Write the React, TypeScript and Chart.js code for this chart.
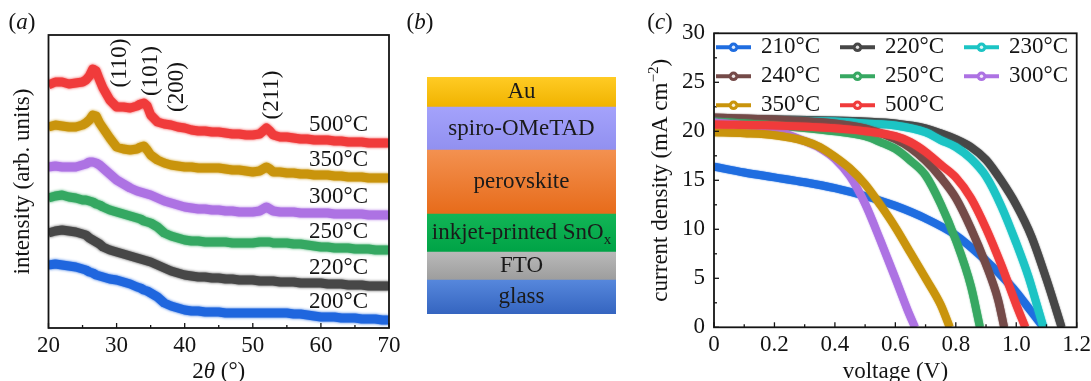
import React, { useEffect, useRef } from 'react';
import { Chart, registerables } from 'chart.js';

Chart.register(...registerables);

const FONT = "'Liberation Serif', 'Times New Roman', Times, serif";
const INK = '#141414';
const FS = 23;

// ---------------- (a) XRD patterns ----------------
const twoTheta = [20, 21, 22, 23, 24, 25, 25.5, 26, 26.5, 27, 27.5, 28, 29, 30, 31, 32, 33, 33.5, 34, 34.5, 35, 36, 37, 38, 39, 40, 41, 42, 43, 44, 45, 46, 47, 48, 49, 50, 51, 51.5, 52, 52.5, 53, 54, 55, 56, 57, 58, 59, 60, 61, 62, 63, 64, 65, 66, 67, 68, 69, 70];
const xrd200 = [63, 64, 63, 62, 61, 59, 58, 56, 55, 53, 52, 51, 49, 48, 46, 44, 41, 40, 38, 37, 35, 31, 25, 22, 20, 18, 17, 17, 16, 16, 16, 15, 15, 15, 15, 15, 15, 15, 15, 15, 15, 15, 15, 14, 14, 13, 12, 11, 11, 11, 10, 10, 10, 9, 9, 9, 8, 8];
const xrd220 = [95, 97, 98, 97, 96, 94, 93, 90, 88, 86, 84, 81, 78, 76, 74, 72, 70, 69, 68, 67, 66, 63, 60, 57, 55, 53, 52, 51, 51, 50, 50, 49, 49, 48, 48, 48, 47, 47, 47, 47, 47, 46, 46, 46, 45, 45, 45, 45, 44, 44, 44, 43, 43, 43, 42, 42, 42, 42];
const xrd250 = [130, 132, 133, 131, 130, 128, 128, 127, 126, 124, 123, 121, 118, 116, 114, 112, 110, 109, 107, 106, 105, 101, 95, 92, 90, 88, 87, 87, 86, 86, 86, 86, 85, 85, 85, 85, 86, 86, 86, 86, 85, 85, 85, 84, 84, 83, 82, 81, 81, 80, 80, 80, 79, 79, 79, 78, 78, 78];
const xrd300 = [161, 162, 161, 161, 161, 163, 164, 166, 166, 165, 163, 160, 154, 148, 144, 140, 137, 136, 135, 134, 133, 130, 127, 125, 123, 121, 120, 119, 119, 118, 118, 117, 117, 116, 116, 116, 117, 119, 121, 119, 117, 116, 116, 116, 115, 115, 115, 115, 115, 114, 114, 114, 114, 114, 113, 113, 113, 113];
const xrd350 = [201, 203, 202, 201, 201, 203, 205, 208, 213, 212, 205, 200, 190, 181, 179, 178, 179, 181, 182, 178, 173, 168, 165, 163, 162, 161, 161, 160, 160, 160, 160, 159, 158, 158, 157, 156, 157, 159, 161, 159, 156, 156, 155, 155, 154, 154, 153, 153, 153, 152, 152, 151, 151, 151, 150, 150, 150, 150];
const xrd500 = [243, 246, 246, 244, 245, 246, 248, 252, 259, 257, 248, 240, 228, 221, 221, 220, 222, 224, 225, 222, 213, 206, 204, 203, 201, 200, 198, 197, 197, 196, 196, 195, 194, 194, 193, 193, 194, 197, 200, 197, 193, 191, 191, 190, 189, 189, 188, 188, 188, 187, 187, 186, 186, 186, 185, 185, 185, 185];
const xrdSeries = [xrd200, xrd220, xrd250, xrd300, xrd350, xrd500];
const xrdLabels = ['200°C', '220°C', '250°C', '300°C', '350°C', '500°C'];
const xrdColors = ['#1f66de', '#474747', '#35a862', '#ad72e3', '#c9940c', '#f03b3b'];
const xrdTicks = [20, 30, 40, 50, 60, 70];
const xrdMinor = [25, 35, 45, 55, 65];
const peakNames = ['(110)', '(101)', '(200)', '(211)'];
const peakTheta = [30.5, 35.0, 38.9, 52.8];
const peakLevel = [265, 257, 241, 233];

// ---------------- (b) device stack ----------------
const layerNames = ['glass', 'FTO', 'inkjet-printed SnO', 'perovskite', 'spiro-OMeTAD', 'Au'];
const layerSubs = ['', '', 'x', '', '', ''];
const layerThickness = [34, 28, 38, 64, 43, 30];
const layerTop = ['#5687dc', '#b9b9b9', '#12b556', '#f39150', '#a4a2fb', '#ffcb24'];
const layerBottom = ['#3565c0', '#9d9d9d', '#00a346', '#e76b1a', '#9190f0', '#f0b300'];

// ---------------- (c) J-V curves ----------------
const v210 = [0, 0.1, 0.2, 0.3, 0.4, 0.5, 0.6, 0.7, 0.8, 0.9, 0.95, 1.0, 1.05, 1.09];
const j210 = [16.4, 15.8, 15.3, 14.8, 14.2, 13.4, 12.4, 11.1, 9.4, 6.8, 5.3, 3.6, 1.6, 0];
const v220 = [0, 0.2, 0.4, 0.5, 0.6, 0.7, 0.75, 0.8, 0.85, 0.9, 0.95, 1.0, 1.05, 1.1, 1.13, 1.15];
const j220 = [21.3, 21.2, 21.1, 21.0, 20.8, 20.3, 19.8, 19.2, 18.4, 17.1, 15.0, 12.5, 9.3, 4.9, 2.0, 0];
const v230 = [0, 0.2, 0.4, 0.5, 0.6, 0.7, 0.75, 0.8, 0.85, 0.9, 0.95, 1.0, 1.04, 1.07, 1.09];
const j230 = [21.2, 21.1, 21.0, 20.8, 20.6, 19.9, 19.1, 18.4, 17.2, 15.4, 12.4, 8.6, 5.2, 2.1, 0];
const v240 = [0, 0.2, 0.4, 0.5, 0.6, 0.65, 0.7, 0.75, 0.8, 0.85, 0.9, 0.94, 0.96];
const j240 = [21.4, 21.2, 20.8, 20.3, 19.2, 18.3, 17.0, 15.3, 13.2, 10.1, 6.4, 2.8, 0];
const v250 = [0, 0.2, 0.4, 0.5, 0.55, 0.6, 0.65, 0.7, 0.75, 0.8, 0.85, 0.88];
const j250 = [21.0, 20.6, 20.0, 19.5, 18.9, 18.2, 17.0, 15.5, 12.6, 8.9, 4.2, 0];
const v300 = [0, 0.1, 0.2, 0.3, 0.35, 0.4, 0.45, 0.5, 0.55, 0.6, 0.64, 0.665];
const j300 = [20.9, 20.6, 20.1, 19.0, 18.3, 17.2, 15.4, 12.6, 8.9, 5.0, 1.8, 0];
const v350 = [0, 0.1, 0.2, 0.3, 0.35, 0.4, 0.45, 0.5, 0.55, 0.6, 0.65, 0.7, 0.75, 0.78];
const j350 = [19.9, 19.8, 19.6, 19.0, 18.4, 17.4, 16.2, 14.6, 12.5, 10.2, 7.6, 5.0, 2.3, 0];
const v500 = [0, 0.2, 0.4, 0.5, 0.6, 0.65, 0.7, 0.75, 0.8, 0.85, 0.9, 0.95, 1.0, 1.03];
const j500 = [20.7, 20.6, 20.3, 20.0, 19.5, 18.9, 17.9, 16.6, 15.3, 13.2, 10.1, 6.4, 2.3, 0];
const ivVoltages = [v210, v220, v230, v240, v250, v300, v350, v500];
const ivCurrents = [j210, j220, j230, j240, j250, j300, j350, j500];
const ivLabels = ['210°C', '220°C', '230°C', '240°C', '250°C', '300°C', '350°C', '500°C'];
const ivColors = ['#1f6de0', '#474747', '#1cc4c4', '#744a48', '#37a862', '#ad72e3', '#c9940c', '#f03b3b'];
const ivDrawOrder = [8, 7, 6, 5, 4, 3, 2, 1];
const ivXMinor = [0.1, 0.3, 0.5, 0.7, 0.9, 1.1];
const ivYMinor = [2.5, 7.5, 12.5, 17.5, 22.5, 27.5];

type Part = { t: string; italic?: boolean; sup?: boolean; sub?: boolean };

function drawRich(
  ctx: CanvasRenderingContext2D,
  parts: Part[],
  x: number,
  y: number,
  size: number,
  align: 'left' | 'center' | 'right',
  rot = 0,
  color = INK
) {
  ctx.save();
  ctx.translate(x, y);
  ctx.rotate(rot);
  ctx.textBaseline = 'middle';
  ctx.textAlign = 'left';
  ctx.fillStyle = color;
  const fontOf = (p: Part) =>
    `${p.italic ? 'italic ' : ''}${p.sup || p.sub ? Math.round(size * 0.66) : size}px ${FONT}`;
  let total = 0;
  const widths = parts.map((p) => {
    ctx.font = fontOf(p);
    const w = ctx.measureText(p.t).width;
    total += w;
    return w;
  });
  let cx = align === 'left' ? 0 : align === 'center' ? -total / 2 : -total;
  parts.forEach((p, i) => {
    ctx.font = fontOf(p);
    const dy = p.sup ? -size * 0.32 : p.sub ? size * 0.3 : 0;
    ctx.fillText(p.t, cx, dy);
    cx += widths[i];
  });
  ctx.restore();
}

const softLinePlugin = {
  id: 'softLine',
  beforeDatasetDraw(chart: any, args: any, opts: any) {
    const ds = chart.data.datasets[args.index];
    chart.ctx.save();
    chart.ctx.shadowColor = ds.borderColor;
    chart.ctx.shadowBlur = opts.blur || 2;
  },
  afterDatasetDraw(chart: any) {
    chart.ctx.restore();
  },
};

const frameTicksPlugin = {
  id: 'frameTicks',
  afterDatasetsDraw(chart: any, _args: any, opts: any) {
    const { ctx, chartArea: a, scales } = chart;
    const xs = scales.x;
    const ys = scales.y;
    ctx.save();
    ctx.strokeStyle = INK;
    ctx.lineWidth = 1.3;
    const tick = (px: number, py: number, dx: number, dy: number) => {
      ctx.beginPath();
      ctx.moveTo(px, py);
      ctx.lineTo(px + dx, py + dy);
      ctx.stroke();
    };
    xs.ticks.forEach((t: any) => tick(xs.getPixelForValue(t.value), a.bottom, 0, -opts.major));
    (opts.xMinor || []).forEach((v: number) => tick(xs.getPixelForValue(v), a.bottom, 0, -opts.minor));
    if (opts.yTicks) {
      ys.ticks.forEach((t: any) => tick(a.left, ys.getPixelForValue(t.value), opts.major, 0));
      (opts.yMinor || []).forEach((v: number) => tick(a.left, ys.getPixelForValue(v), opts.minor, 0));
    }
    ctx.lineWidth = 1.8;
    ctx.strokeRect(a.left, a.top, a.right - a.left, a.bottom - a.top);
    ctx.restore();
  },
};

const xrdTextPlugin = {
  id: 'xrdText',
  afterDraw(chart: any) {
    const { ctx, chartArea: a, scales } = chart;
    const xs = scales.x;
    const ys = scales.y;
    drawRich(ctx, [{ t: '(' }, { t: 'a', italic: true }, { t: ')' }], 22, 23, FS, 'center');
    drawRich(ctx, [{ t: 'intensity (arb. units)' }], 23, (a.top + a.bottom) / 2, FS, 'center', -Math.PI / 2);
    drawRich(ctx, [{ t: '2' }, { t: 'θ', italic: true }, { t: ' (°)' }], (a.left + a.right) / 2, 372, FS, 'center');
    peakNames.forEach((n, i) => {
      drawRich(ctx, [{ t: n }], xs.getPixelForValue(peakTheta[i]), ys.getPixelForValue(peakLevel[i]), FS, 'center', -Math.PI / 2);
    });
    chart.data.datasets.forEach((ds: any) => {
      const last = ds.data[ds.data.length - 1].y;
      drawRich(ctx, [{ t: ds.label }], a.right - 21, ys.getPixelForValue(last) - 18, FS, 'right');
    });
  },
};

const layerTextPlugin = {
  id: 'layerText',
  afterDatasetsDraw(chart: any) {
    const { ctx } = chart;
    drawRich(ctx, [{ t: '(' }, { t: 'b', italic: true }, { t: ')' }], 420, 23, FS, 'center');
    chart.data.datasets.forEach((ds: any, i: number) => {
      const el = chart.getDatasetMeta(i).data[0];
      if (!el) return;
      const cy = (el.y + el.base) / 2;
      const parts: Part[] = [{ t: layerNames[i] }];
      if (layerSubs[i]) parts.push({ t: layerSubs[i], sub: true });
      drawRich(ctx, parts, el.x, cy, FS, 'center', 0, '#1a1a1a');
    });
  },
};

const ivTextPlugin = {
  id: 'ivText',
  afterDraw(chart: any) {
    const { ctx, chartArea: a } = chart;
    drawRich(ctx, [{ t: '(' }, { t: 'c', italic: true }, { t: ')' }], 660, 23, FS, 'center');
    drawRich(
      ctx,
      [{ t: 'current density (mA cm' }, { t: '−2', sup: true }, { t: ')' }],
      661,
      (a.top + a.bottom) / 2,
      FS,
      'center',
      -Math.PI / 2
    );
    drawRich(ctx, [{ t: 'voltage (V)' }], (a.left + a.right) / 2, 372, FS, 'center');
    chart.data.datasets.forEach((ds: any, i: number) => {
      const col = i % 3;
      const row = Math.floor(i / 3);
      const x0 = a.left + 2 + col * 124;
      const y = a.top + 14 + row * 29;
      ctx.save();
      ctx.strokeStyle = ds.borderColor;
      ctx.lineWidth = 4;
      ctx.beginPath();
      ctx.moveTo(x0, y);
      ctx.lineTo(x0 + 35, y);
      ctx.stroke();
      ctx.fillStyle = ds.borderColor;
      ctx.beginPath();
      ctx.arc(x0 + 17.5, y, 4.8, 0, Math.PI * 2);
      ctx.fill();
      ctx.fillStyle = 'rgba(255,255,255,0.85)';
      ctx.beginPath();
      ctx.arc(x0 + 17.5, y, 1.7, 0, Math.PI * 2);
      ctx.fill();
      ctx.restore();
      drawRich(ctx, [{ t: ds.label }], x0 + 45, y, FS, 'left');
    });
  },
};

export default function App() {
  const refA = useRef<HTMLCanvasElement>(null);
  const refB = useRef<HTMLCanvasElement>(null);
  const refC = useRef<HTMLCanvasElement>(null);

  useEffect(() => {
    document.body.style.margin = '0';
    const font = { family: FONT, size: FS };
    const charts: Chart[] = [];

    charts.push(
      new Chart(refA.current as HTMLCanvasElement, {
        type: 'line',
        data: {
          datasets: xrdSeries.map((s, i) => ({
            label: xrdLabels[i],
            data: twoTheta.map((t, k) => ({ x: t, y: s[k] })),
            borderColor: xrdColors[i],
            backgroundColor: xrdColors[i],
            borderWidth: 9,
            pointRadius: 0,
            tension: 0,
            borderJoinStyle: 'round',
          })),
        },
        options: {
          responsive: false,
          animation: false,
          events: [],
          layout: { padding: { left: 48.5, right: 702, top: 35, bottom: 0 } },
          plugins: {
            legend: { display: false },
            tooltip: { enabled: false },
            softLine: { blur: 3 },
            frameTicks: { major: 5, minor: 3, xMinor: xrdMinor, yTicks: false },
          } as any,
          scales: {
            x: {
              type: 'linear',
              min: xrdTicks[0],
              max: xrdTicks[xrdTicks.length - 1],
              grid: { display: false, drawTicks: false },
              border: { display: false },
              ticks: { stepSize: 10, padding: 4, font, color: INK, maxRotation: 0, autoSkip: false },
              afterFit: (s: any) => {
                s.height = 53;
                s.paddingLeft = 0;
                s.paddingRight = 0;
              },
            },
            y: { type: 'linear', min: 0, max: 293, display: false },
          },
        } as any,
        plugins: [softLinePlugin, frameTicksPlugin, xrdTextPlugin],
      })
    );

    const total = layerThickness.reduce((p, c) => p + c, 0);
    charts.push(
      new Chart(refB.current as HTMLCanvasElement, {
        type: 'bar',
        data: {
          labels: ['device'],
          datasets: layerNames.map((n, i) => ({
            label: n,
            data: [layerThickness[i]],
            backgroundColor: (c: any) => {
              const chart = c.chart;
              const ys = chart.scales && chart.scales.y;
              if (!chart.chartArea || !ys) return layerTop[i];
              const below = layerThickness.slice(0, i).reduce((p, q) => p + q, 0);
              const yb = ys.getPixelForValue(below);
              const yt = ys.getPixelForValue(below + layerThickness[i]);
              const g = chart.ctx.createLinearGradient(0, yt, 0, yb);
              g.addColorStop(0, layerTop[i]);
              g.addColorStop(1, layerBottom[i]);
              return g;
            },
            borderWidth: 0,
            barPercentage: 1,
            categoryPercentage: 1,
          })),
        },
        options: {
          responsive: false,
          animation: false,
          events: [],
          layout: { padding: { left: 427, right: 475, top: 77, bottom: 67 } },
          plugins: { legend: { display: false }, tooltip: { enabled: false } },
          scales: {
            x: { stacked: true, display: false },
            y: { stacked: true, display: false, min: 0, max: total },
          },
        } as any,
        plugins: [layerTextPlugin],
      })
    );

    charts.push(
      new Chart(refC.current as HTMLCanvasElement, {
        type: 'line',
        data: {
          datasets: ivVoltages.map((vs, i) => ({
            label: ivLabels[i],
            data: vs.map((v, k) => ({ x: v, y: ivCurrents[i][k] })),
            borderColor: ivColors[i],
            backgroundColor: ivColors[i],
            borderWidth: 8,
            pointRadius: 0,
            cubicInterpolationMode: 'monotone',
            order: ivDrawOrder[i],
          })),
        },
        options: {
          responsive: false,
          animation: false,
          events: [],
          layout: { padding: { left: 654, right: 14.3, top: 33.3, bottom: 0 } },
          plugins: {
            legend: { display: false },
            tooltip: { enabled: false },
            softLine: { blur: 1.5 },
            frameTicks: { major: 5, minor: 3, xMinor: ivXMinor, yTicks: true, yMinor: ivYMinor },
          } as any,
          scales: {
            x: {
              type: 'linear',
              min: 0,
              max: 1.2,
              grid: { display: false, drawTicks: false },
              border: { display: false },
              ticks: {
                stepSize: 0.2,
                padding: 4,
                font,
                color: INK,
                maxRotation: 0,
                autoSkip: false,
                callback: (v: any) => (Math.abs(Number(v)) < 1e-9 ? '0' : Number(v).toFixed(1)),
              },
              afterFit: (s: any) => {
                s.height = 53.7;
                s.paddingLeft = 0;
                s.paddingRight = 0;
              },
            },
            y: {
              type: 'linear',
              min: 0,
              max: 30,
              grid: { display: false, drawTicks: false },
              border: { display: false },
              ticks: { stepSize: 5, padding: 9, font, color: INK },
              afterFit: (s: any) => {
                s.width = 60;
                s.paddingTop = 0;
                s.paddingBottom = 0;
              },
            },
          },
        } as any,
        plugins: [softLinePlugin, frameTicksPlugin, ivTextPlugin],
      })
    );

    return () => charts.forEach((c) => c.destroy());
  }, []);

  const cs: React.CSSProperties = { position: 'absolute', left: 0, top: 0 };
  return (
    <div style={{ position: 'relative', width: 1091, height: 381, background: '#fff', overflow: 'hidden' }}>
      <canvas ref={refB} width={1091} height={381} style={cs} />
      <canvas ref={refA} width={1091} height={381} style={cs} />
      <canvas ref={refC} width={1091} height={381} style={cs} />
    </div>
  );
}
